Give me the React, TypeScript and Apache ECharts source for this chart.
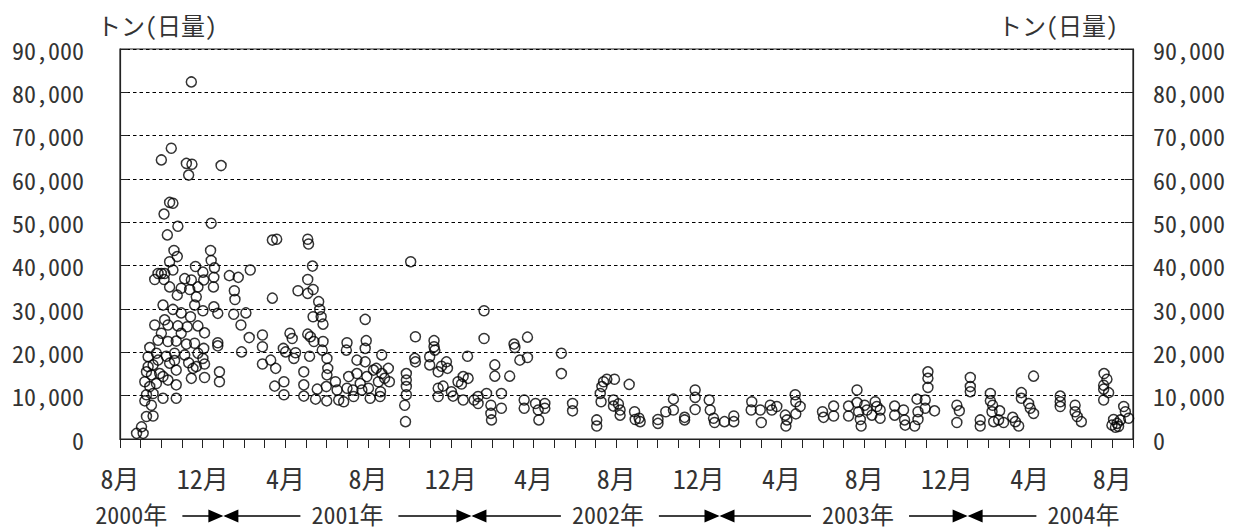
import React, { useEffect, useRef } from "react";
import * as echarts from "echarts";

// x = months since 1 Aug 2000, y = tons per day
const pts2000: number[][] = [
  [3.45, 82400], [2.0, 64400], [2.48, 67100], [3.21, 63600], [3.48, 63400], [3.32, 60900], [4.89, 63100],
  [2.4, 54600], [2.56, 54400], [2.13, 51900], [2.8, 49100], [2.29, 47100], [4.41, 49800], [2.61, 43500],
  [2.77, 42100], [2.4, 40900], [4.38, 43500], [4.41, 41200], [3.65, 39800], [4.57, 39500], [4.01, 38500],
  [1.84, 38200], [2.0, 38200], [2.16, 38200], [1.68, 36800], [2.13, 36800], [3.13, 37000], [4.54, 37300],
  [4.52, 35100], [2.4, 35100], [2.77, 33200], [3.37, 34500], [3.77, 35100], [4.05, 36700], [2.08, 30900],
  [2.56, 29900], [2.96, 29100], [3.41, 28200], [4.01, 29600], [4.54, 30500], [4.73, 29000], [2.16, 27500],
  [2.32, 26300], [1.68, 26300], [2.8, 26100], [3.25, 25900], [3.77, 26100], [4.09, 24500], [1.84, 22800],
  [2.32, 22500], [2.72, 22600], [3.21, 21900], [3.61, 22100], [4.05, 20900], [4.73, 22200], [4.73, 21500],
  [1.44, 21100], [1.76, 19800], [2.24, 19100], [2.64, 19800], [3.13, 19400], [3.77, 19800], [4.01, 18600],
  [1.36, 16700], [1.6, 17100], [2.4, 17500], [2.64, 18100], [3.32, 17600], [3.69, 16700], [4.09, 17300],
  [1.28, 15500], [1.52, 14800], [1.92, 15100], [2.72, 15900], [3.45, 14000], [4.09, 14200], [4.81, 15500],
  [4.81, 13200], [1.2, 13200], [1.44, 12100], [1.76, 12800], [2.08, 14400], [2.72, 12500], [1.28, 10200],
  [1.6, 10500], [2.08, 9400], [2.72, 9400], [1.2, 8800], [1.52, 7800], [1.28, 5200], [1.6, 5300],
  [1.04, 2800], [0.8, 1300], [1.12, 1300], [2.0, 24400], [2.96, 24400], [3.61, 30900], [2.96, 34800],
  [2.56, 39000], [3.45, 36700], [3.69, 32800], [1.36, 19000], [1.84, 18200], [3.53, 16300], [2.32, 13600],
];

const pts2001: number[][] = [
  [5.29, 37700], [5.72, 37300], [5.53, 34200], [5.56, 32200], [5.5, 28800],
  [6.3, 39000], [5.85, 26300], [6.09, 29100], [6.25, 23400], [5.88, 20100], [6.89, 24000], [6.89, 21300],
  [6.89, 17300], [7.29, 18200], [7.53, 16300], [7.37, 32500], [7.37, 45900], [7.58, 46100], [7.48, 12200],
  [7.93, 13200], [7.93, 10200], [7.9, 20900], [8.01, 20100], [8.22, 24400], [8.33, 23200], [8.49, 19900],
  [8.41, 18600], [8.61, 34200], [8.89, 15500], [8.89, 12500], [8.89, 9900], [9.08, 46100], [9.12, 45000],
  [9.08, 24200], [9.21, 23600], [9.17, 19100], [9.31, 39900], [9.08, 36800], [9.08, 33600], [9.34, 34500],
  [9.38, 22500], [9.34, 28200], [9.61, 31700], [9.66, 29900], [9.73, 28200], [9.82, 26500], [9.82, 22500],
  [9.78, 20500], [10.01, 18600], [10.05, 16300], [10.01, 14800], [9.54, 11500], [9.46, 9200], [10.0, 8800],
  [9.98, 12100], [10.42, 13200], [10.5, 11300], [10.58, 9000], [10.82, 8600], [10.98, 22200], [10.95, 20500],
  [11.06, 14400], [10.98, 11700], [11.27, 11300], [11.3, 9800], [11.46, 18200], [11.46, 15100], [11.62, 12800],
  [11.7, 11300], [11.86, 27600], [11.91, 22700], [11.86, 20900], [11.86, 17800], [11.94, 14400], [12.02, 11700],
  [12.1, 9400], [12.26, 15900], [12.4, 16300], [12.5, 13200], [12.6, 10900], [12.66, 19400], [12.66, 15100],
  [12.8, 14000], [12.98, 16300], [13.03, 13200], [12.58, 9800],
  [14.06, 40900], [13.85, 15100], [13.85, 13600], [13.85, 12100], [13.85, 10200], [13.77, 7800], [13.81, 4000],
  [14.29, 23600], [14.26, 18600], [14.29, 17800], [14.98, 19000], [14.98, 17100], [15.19, 22700], [15.19, 21300],
  [15.23, 20500], [15.39, 15500], [15.55, 16800], [15.79, 17800], [15.84, 16300], [15.39, 11700], [15.39, 9800],
  [15.63, 12200], [16.03, 10900], [16.11, 9900], [16.35, 13200], [16.52, 12700], [16.6, 14400], [16.84, 14000],
  [16.81, 19100], [16.6, 9000],
];

const pts2002: number[][] = [
  [17.13, 9000], [17.32, 9800], [17.32, 8200], [17.73, 10500], [17.61, 29600], [17.61, 23200], [17.94, 7800],
  [17.94, 5900], [17.97, 4400], [18.13, 17100], [18.13, 14500], [18.45, 10500], [18.45, 7100], [18.85, 14500],
  [19.06, 21900], [19.1, 21100], [19.34, 18200], [19.71, 23500], [19.71, 18800], [19.55, 9000], [19.55, 7100],
  [20.1, 8200], [20.23, 6700], [20.26, 4400], [20.55, 8200], [20.55, 7100], [21.35, 19800], [21.35, 15100],
  [21.89, 8200], [21.89, 6500], [23.06, 4400], [23.06, 3000], [23.31, 12100], [23.39, 13200], [23.55, 13800],
  [23.92, 13800], [23.23, 10500], [23.27, 8600], [23.87, 9000], [23.87, 7600], [24.11, 8100], [24.19, 6700],
  [24.19, 5500], [24.63, 12600], [24.89, 6300], [24.92, 4500], [25.11, 4800], [25.16, 4000], [26.02, 4500],
  [26.02, 3600], [26.4, 6300], [26.77, 9200], [26.77, 6700], [27.31, 5000], [27.31, 4400], [27.82, 11300],
  [27.82, 9600], [27.82, 6800], [28.5, 9000], [28.55, 6700], [28.71, 4800], [28.76, 3800],
];

const pts2003: number[][] = [
  [29.24, 4000], [29.69, 5300], [29.69, 4000],
  [30.56, 8600], [30.53, 6700], [30.97, 6700], [31.02, 3800], [31.45, 7800], [31.53, 6700], [31.77, 7500],
  [32.18, 5500], [32.26, 4400], [32.21, 3000], [32.66, 10200], [32.69, 8600], [32.9, 7500], [32.69, 5800],
  [33.98, 6300], [34.03, 5000], [34.52, 7600], [34.52, 5300], [35.24, 7600], [35.24, 5300], [35.65, 11300],
  [35.65, 8400], [35.73, 6300], [35.81, 4500], [35.85, 3000], [36.02, 7800], [36.13, 6700], [36.37, 5500],
  [36.53, 8600], [36.61, 7500], [36.77, 6700], [36.77, 4800], [37.47, 7600], [37.47, 5500], [37.9, 6700],
  [37.95, 4400], [37.98, 3200],
  [38.44, 3000], [38.55, 9200], [38.6, 6300], [38.6, 4500], [38.95, 9000], [38.95, 7100], [39.08, 15500],
  [39.08, 14000], [39.08, 11900], [39.4, 6500], [40.48, 7800], [40.6, 6500], [40.48, 3800],
];

const pts2004: number[][] = [
  [41.13, 14200], [41.13, 12100], [41.13, 10900], [41.61, 4400], [41.61, 3000], [42.1, 10500], [42.1, 8800],
  [42.21, 7800], [42.18, 6300], [42.26, 4000], [42.55, 6500], [42.5, 4400], [42.74, 3800], [43.18, 5000],
  [43.31, 4000], [43.47, 3000], [43.6, 10700], [43.6, 9400], [43.95, 8200], [44.03, 7100], [44.19, 14500],
  [44.19, 5900], [45.48, 9900], [45.48, 8600], [45.48, 7500],
  [46.2, 7800], [46.2, 6300], [46.3, 5200], [46.5, 4000], [47.6, 15100], [47.74, 13800], [47.58, 12400],
  [47.58, 11500], [47.82, 10700], [47.58, 9000], [48.06, 4500], [47.98, 3200], [48.15, 2700], [48.23, 3600],
  [48.39, 4400], [48.55, 7500], [48.63, 6300], [48.79, 4800], [48.3, 2900],
];

// tick labels every 4 months starting Aug 2000
const monthTickLabels = ["8月", "12月", "4月", "8月", "12月", "4月", "8月", "12月", "4月", "8月", "12月", "4月", "8月"];
const yearLabels = ["2000年", "2001年", "2002年", "2003年", "2004年"];
const yearStartMonths = [5, 17, 29, 41]; // January of 2001..2004
const yTicks = { min: 0, max: 90000, step: 10000 };
const axisTitle = "トン(日量)";

// layout
const FONT = "'Noto Sans Mono CJK JP', 'Noto Sans CJK JP', monospace";
const yearLabelAt = [0.55, 11.0, 23.6, 35.7, 46.6];
const YEAR_ROW_Y = 513;
const ARROW_Y = 516;
const YEAR_HALF_W = 41;

export default function App() {
  const ref = useRef<HTMLDivElement>(null);
  useEffect(() => {
    document.body.style.margin = "0";
    if (!ref.current) return;
    const chart = echarts.init(ref.current, null, { renderer: "svg" });
    const fmt = (v: number) => v.toLocaleString("en-US");
    const yAxisBase = {
      type: "value",
      min: yTicks.min,
      max: yTicks.max,
      interval: yTicks.step,
      axisLine: { show: true, lineStyle: { color: "#222", width: 1.2 } },
      axisTick: { show: true, inside: true, length: 8, lineStyle: { color: "#222" } },
      axisLabel: { fontSize: 24, color: "#333", fontFamily: FONT, formatter: fmt },
    };
    chart.setOption({
      animation: false,
      backgroundColor: "#fff",
      grid: { left: 120, right: 107, top: 49, bottom: 93, show: true, borderColor: "#222", borderWidth: 1.2, backgroundColor: "transparent" },
      xAxis: {
        type: "value",
        min: 0,
        max: 49,
        interval: 1,
        axisLine: { show: true, onZero: false, lineStyle: { color: "#222", width: 1.2 } },
        axisTick: { show: true, inside: false, length: 9, lineStyle: { color: "#222" } },
        splitLine: { show: false },
        axisLabel: {
          fontSize: 26,
          color: "#333",
          fontFamily: FONT,
          margin: 25,
          showMinLabel: true,
          formatter: (v: number) => (v % 4 === 0 ? monthTickLabels[v / 4] || "" : ""),
        },
      },
      yAxis: [
        {
          ...yAxisBase,
          position: "left",
          splitLine: { show: true, lineStyle: { color: "#000", width: 1, type: [3.5, 3] } },
          axisLabel: { ...yAxisBase.axisLabel, margin: 36 },
        },
        {
          ...yAxisBase,
          position: "right",
          splitLine: { show: false },
          axisLabel: { ...yAxisBase.axisLabel, margin: 20 },
        },
      ],
      series: [pts2000, pts2001, pts2002, pts2003, pts2004].map((d) => ({
        type: "scatter",
        yAxisIndex: 0,
        symbol: "circle",
        symbolSize: 10,
        data: d,
        itemStyle: { color: "rgba(255,255,255,0)", borderColor: "#000", borderWidth: 1.5 },
        silent: true,
      })),
    });

    const px = (m: number) => chart.convertToPixel({ xAxisIndex: 0 }, m) as unknown as number;
    const g: any[] = [];
    g.push({ type: "text", left: 97, top: 12, style: { text: axisTitle, fontSize: 24, fontFamily: FONT, fill: "#333" } });
    g.push({ type: "text", right: 1240 - 1118, top: 12, style: { text: axisTitle, fontSize: 24, fontFamily: FONT, fill: "#333" } });
    const centers = yearLabelAt.map(px);
    yearLabels.forEach((t, i) => {
      g.push({
        type: "text",
        x: centers[i],
        y: YEAR_ROW_Y,
        style: { text: t, fontSize: 24, fontFamily: FONT, fill: "#333", align: "center", verticalAlign: "middle" },
      });
    });
    const y = ARROW_Y;
    yearStartMonths.forEach((m, i) => {
      const c = px(m);
      const lx0 = centers[i] + YEAR_HALF_W + 10;
      const rx1 = centers[i + 1] - YEAR_HALF_W - 6;
      g.push({ type: "line", shape: { x1: lx0, y1: y, x2: c - 2, y2: y }, style: { stroke: "#000", lineWidth: 1.5 } });
      g.push({ type: "line", shape: { x1: c + 2, y1: y, x2: rx1, y2: y }, style: { stroke: "#000", lineWidth: 1.5 } });
      g.push({ type: "polygon", shape: { points: [[c - 15, y - 6.5], [c, y], [c - 15, y + 6.5]] }, style: { fill: "#000" } });
      g.push({ type: "polygon", shape: { points: [[c + 15, y - 6.5], [c, y], [c + 15, y + 6.5]] }, style: { fill: "#000" } });
    });
    chart.setOption({ graphic: g });
    return () => chart.dispose();
  }, []);
  return <div ref={ref} style={{ width: 1240, height: 532 }} />;
}
